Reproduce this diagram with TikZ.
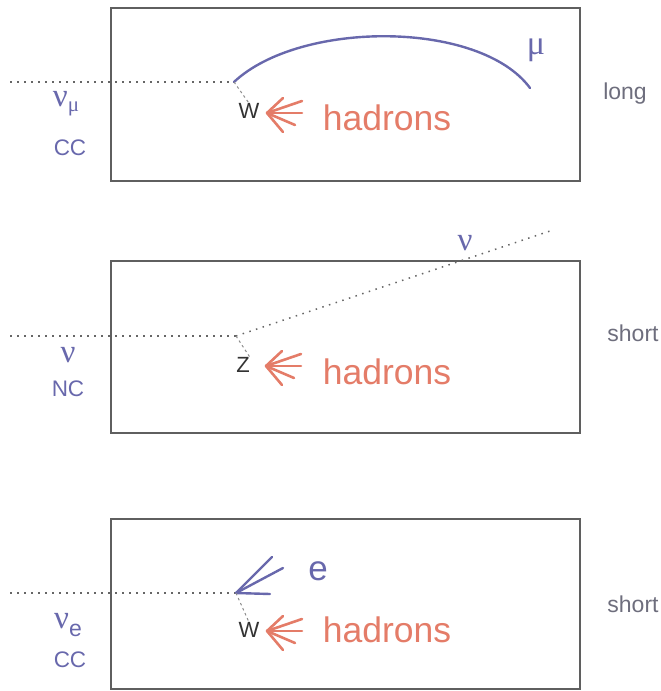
\documentclass[tikz,border=0pt]{standalone}
\usepackage{fontspec}
\setmainfont{Liberation Sans}
\newfontfamily\greekfont{Liberation Serif}
\definecolor{lepc}{RGB}{104,104,172}
\definecolor{hadc}{RGB}{228,124,104}
\definecolor{framec}{RGB}{95,95,95}
\definecolor{greyc}{RGB}{110,110,125}
\begin{document}
\begin{tikzpicture}[x=1pt,y=-1pt,
  frame/.style={draw=framec, line width=1.2pt},
  beam/.style={draw=black!60, line width=1.5pt, dash pattern=on 1.5pt off 5.5pt},
  boson/.style={draw=black!45, line width=1pt, dash pattern=on 2.5pt off 3pt},
  lep/.style={draw=lepc, line width=2.4pt, line cap=round},
  had/.style={draw=hadc, line width=2.6pt, line cap=round},
  sidelab/.style={font=\fontsize{23}{23}\selectfont, text=greyc, inner sep=0pt},
  chanlab/.style={font=\fontsize{22.5}{22.5}\selectfont, text=lepc, inner sep=0pt},
  nulab/.style={font=\greekfont\fontsize{33}{33}\selectfont, text=lepc, inner sep=0pt},
  bosonlab/.style={font=\fontsize{22}{22}\selectfont, text=black!80, inner sep=0pt},
  hadlab/.style={font=\fontsize{35.5}{35.5}\selectfont, text=hadc, inner sep=0pt},
  leplab/.style={font=\fontsize{35}{35}\selectfont, text=lepc, inner sep=0pt}
]
\useasboundingbox (0,0) rectangle (661,691);

% ---------- panel 1: nu_mu CC ----------
\node[frame, minimum width=469pt, minimum height=173pt, inner sep=0pt] (box1) at (345.5,94.5) {};
\coordinate (in1) at (10,82);
\coordinate (v1) at (234,82);
\coordinate (mu1) at (530,88);
\draw[beam] (in1) -- (v1);
\draw[lep] (v1) .. controls (300,20) and (480,20) .. (mu1);
\node[leplab, font=\greekfont\fontsize{34}{34}\selectfont] (mulab) at (536,50) {μ};
\node[bosonlab] (w1) at (249,111) {W};
\draw[boson] (v1) -- (w1.north);
\coordinate (h1) at (267,113);
\draw[had] (h1) -- ++(16,-15);
\draw[had] (h1) -- ++(35,-12);
\draw[had] (h1) -- ++(35,0);
\draw[had] (h1) -- ++(28,12);
\draw[had] (h1) -- ++(16,19);
\node[hadlab] (had1) at (387,118) {hadrons};
\node[nulab] (nu1) at (66,104) {ν\raisebox{-0.35ex}{\fontsize{21}{21}\selectfont μ}};
\node[chanlab] (cc1) at (70,148) {CC};
\node[sidelab] (long) at (625,94) {long};

% ---------- panel 2: NC ----------
\node[frame, minimum width=469pt, minimum height=172pt, inner sep=0pt] (box2) at (345.5,347) {};
\coordinate (in2) at (10,336);
\coordinate (v2) at (236,336);
\coordinate (out2) at (550,231);
\draw[beam] (in2) -- (v2);
\draw[beam] (v2) -- (out2);
\node[nulab] (nuout) at (465,243) {ν};
\node[bosonlab] (z2) at (243,365) {Z};
\draw[boson] (v2) -- (z2.north east);
\coordinate (h2) at (266,366);
\draw[had] (h2) -- ++(16,-15);
\draw[had] (h2) -- ++(35,-12);
\draw[had] (h2) -- ++(35,0);
\draw[had] (h2) -- ++(28,12);
\draw[had] (h2) -- ++(16,19);
\node[hadlab] (had2) at (387,372) {hadrons};
\node[nulab] (nu2) at (68,355) {ν};
\node[chanlab] (nc2) at (68,389) {NC};
\node[sidelab] (short2) at (633,333) {short};

% ---------- panel 3: nu_e CC ----------
\node[frame, minimum width=469pt, minimum height=170pt, inner sep=0pt] (box3) at (345.5,604) {};
\coordinate (in3) at (10,593);
\coordinate (v3) at (236,593);
\draw[beam] (in3) -- (v3);
\draw[lep] (v3) -- (272,557);
\draw[lep] (v3) -- (283,568);
\draw[lep] (v3) -- (270,594);
\node[leplab] (elab) at (318,571) {e};
\node[bosonlab] (w3) at (249,630) {W};
\draw[boson] (v3) -- (w3.north);
\coordinate (h3) at (267,631);
\draw[had] (h3) -- ++(16,-15);
\draw[had] (h3) -- ++(35,-12);
\draw[had] (h3) -- ++(35,0);
\draw[had] (h3) -- ++(28,12);
\draw[had] (h3) -- ++(16,19);
\node[hadlab] (had3) at (387,630) {hadrons};
\node[nulab] (nu3) at (68,625) {ν\raisebox{-0.5ex}{\fontsize{23}{23}\selectfont\rmfamily e}};
\node[chanlab] (cc3) at (70,660) {CC};
\node[sidelab] (short3) at (633,604) {short};
\end{tikzpicture}
\end{document}
